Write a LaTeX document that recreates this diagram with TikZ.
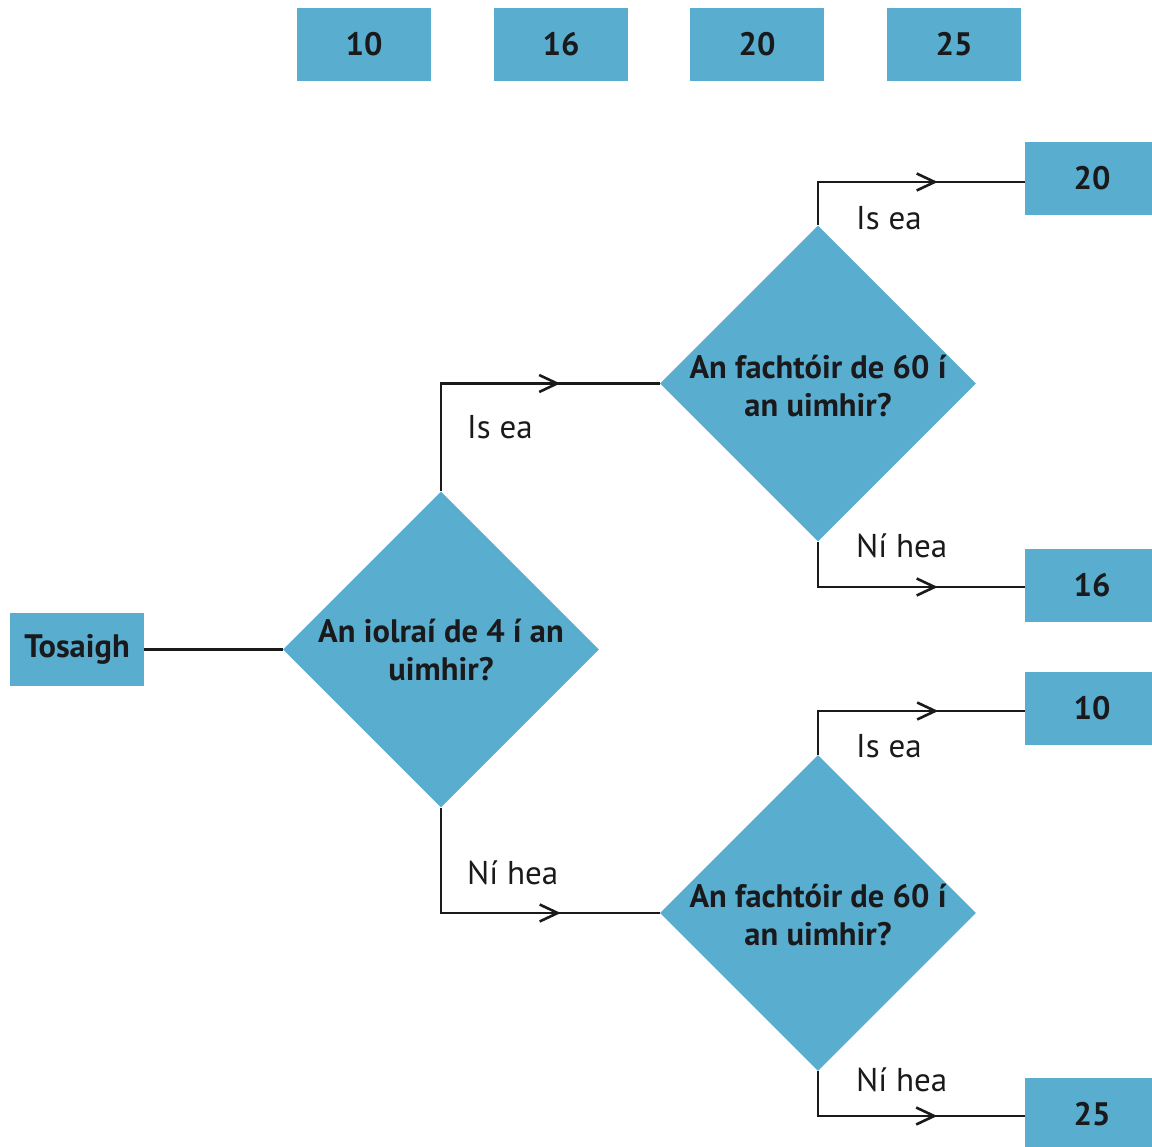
\documentclass[tikz,border=0pt]{standalone}
\usepackage{fontspec}
\setmainfont{PT Sans}
\usetikzlibrary{shapes.geometric,arrows.meta,decorations.markings}
\definecolor{boxblue}{RGB}{89,174,208}
\definecolor{ink}{RGB}{26,26,28}
\tikzset{
  box/.style={fill=boxblue,minimum width=134pt,minimum height=73pt,inner sep=0pt,
    font=\fontsize{32.5}{36}\selectfont\bfseries,text=ink},
  decision/.style={diamond,fill=boxblue,minimum width=316pt,minimum height=316pt,inner sep=0pt,aspect=1},
  dtext/.style={align=center,font=\fontsize{32.5}{38}\selectfont\bfseries,text=ink,inner sep=0pt},
  lbl/.style={anchor=west,font=\fontsize{33}{36}\selectfont,text=ink,inner sep=0pt},
  conn/.style={draw=ink,line width=2.6pt},
  midarrow/.style={postaction={decorate},decoration={markings,
    mark=at position #1 with {\arrow[ink,line width=2.6pt]{Straight Barb[length=18pt,width=17pt]}}}}
}
\begin{document}
\begin{tikzpicture}[x=1pt,y=-1pt]
\useasboundingbox (0,0) rectangle (1152,1147);
\clip (0,0) rectangle (1152,1147);
% top row
\node[box] (t10) at (364,44.5) {10};
\node[box] (t16) at (561,44.5) {16};
\node[box] (t20) at (757,44.5) {20};
\node[box] (t25) at (954,44.5) {25};
% start
\node[box] (start) at (77,649.5) {Tosaigh};
% decisions
\node[decision] (d1) at (441,649.5) {};
\node[dtext] (d1t) at (441,650) {An iolraí de 4 í an\\uimhir?};
\node[decision] (d2) at (818,383.5) {};
\node[dtext] (d2t) at (818,386) {An fachtóir de 60 í\\an uimhir?};
\node[decision] (d3) at (818,913) {};
\node[dtext] (d3t) at (818,915) {An fachtóir de 60 í\\an uimhir?};
% results
\node[box] (r20) at (1092,178.5) {20};
\node[box] (r16) at (1092,585.5) {16};
\node[box] (r10) at (1092,708.5) {10};
\node[box] (r25) at (1092,1114.5) {25};
% connectors
\draw[conn] (start.east) -- (d1.west);
\draw[conn,midarrow=227pt] (d1.north) |- (d2.west);
\draw[conn,midarrow=225pt] (d1.south) |- (d3.west);
\draw[conn,midarrow=163pt] (d2.north) |- ([yshift=-3.5pt]r20.west);
\draw[conn,midarrow=165pt] (d2.south) |- ([yshift=-1.5pt]r16.west);
\draw[conn,midarrow=164pt] (d3.north) |- ([yshift=-2.5pt]r10.west);
\draw[conn,midarrow=164pt] (d3.south) |- ([yshift=-1.5pt]r25.west);
% labels
\node[lbl] (l1) at (467,427) {Is ea};
\node[lbl] (l2) at (467,873) {Ní hea};
\node[lbl] (l3) at (856,218) {Is ea};
\node[lbl] (l4) at (856,546) {Ní hea};
\node[lbl] (l5) at (856,746) {Is ea};
\node[lbl] (l6) at (856,1080) {Ní hea};
\end{tikzpicture}
\end{document}
